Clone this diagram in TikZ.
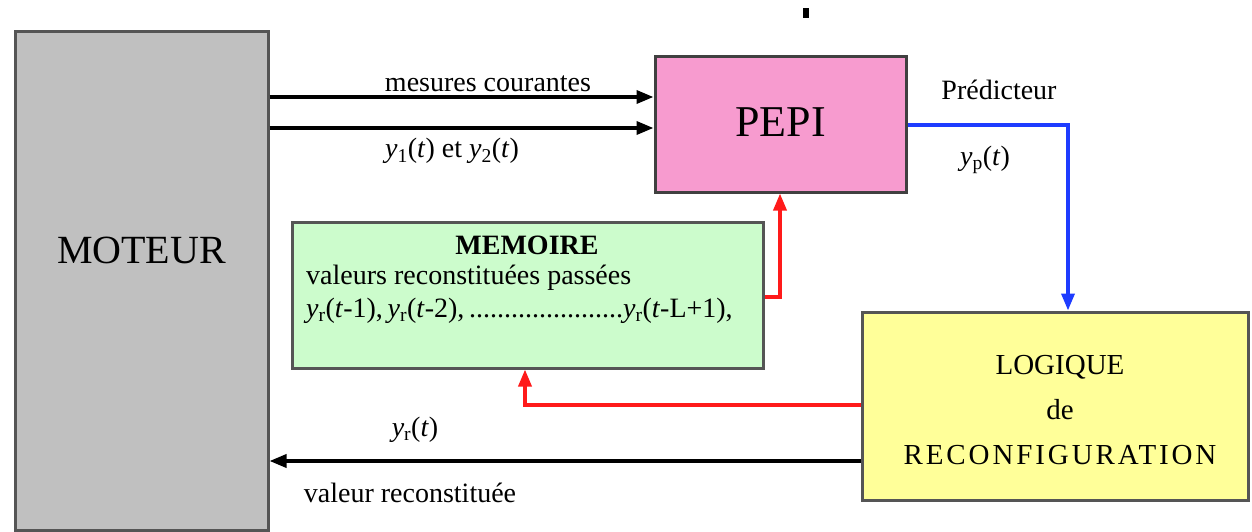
\documentclass[tikz,border=0pt]{standalone}
\usepackage{fontspec}
\setmainfont{Liberation Serif}
\usetikzlibrary{arrows.meta}
\definecolor{boxgray}{HTML}{C0C0C0}
\definecolor{boxpink}{HTML}{F79BCF}
\definecolor{boxgreen}{HTML}{CCFCCC}
\definecolor{boxyellow}{HTML}{FFFF99}
\definecolor{edgegray}{HTML}{555555}
\definecolor{linkblue}{HTML}{1E3CFF}
\definecolor{linkred}{HTML}{FF1A1A}
\newcommand{\yv}[1]{{\itshape y}\textsubscript{#1}}
\begin{document}
\begin{tikzpicture}[x=1pt,y=-1pt,
  blockbox/.style={draw=edgegray,line width=3pt,rectangle,inner sep=0pt},
  biglbl/.style={font=\fontsize{40}{44}\selectfont},
  midlbl/.style={font=\fontsize{29}{45}\selectfont,align=center},
  smalllbl/.style={font=\fontsize{28}{32}\selectfont,inner sep=0pt},
  tip/.style={-{Triangle[length=17pt,width=13pt]}},
  blk/.style={tip,line width=3.5pt,draw=black},
  bluelink/.style={tip,line width=3.5pt,draw=linkblue},
  redlink/.style={tip,line width=3.5pt,draw=linkred}]
\useasboundingbox (0,0) rectangle (1252,532);
% boxes
\node[blockbox,fill=boxgray,minimum width=253pt,minimum height=498pt] (moteur) at (141.5,281) {};
\node[biglbl] (moteurtxt) at (141.5,250) {MOTEUR};
\node[blockbox,draw=black!75,fill=boxpink,minimum width=251pt,minimum height=135pt] (pepi) at (780.5,124.5) {};
\node[biglbl,font=\fontsize{44}{48}\selectfont] (pepitxt) at (780.5,122) {PEPI};
\node[blockbox,fill=boxgreen,minimum width=471pt,minimum height=146pt] (memoire) at (527.5,295) {};
\node[smalllbl,font=\fontsize{28}{32}\selectfont\bfseries] (memtitle) at (527,245) {MEMOIRE};
\node[smalllbl,anchor=west] (memline1) at (306,278) {valeurs reconstituées passées};
\node[smalllbl,anchor=west] (memline2) at (306,311) {\yv{r}(\textit{t}-1),\,\yv{r}(\textit{t}-2),\,......................\yv{r}(\textit{t}-L+1),};
\node[blockbox,fill=boxyellow,minimum width=386pt,minimum height=188pt] (logique) at (1055,406) {};
\node[midlbl] (logtxt) at (1060,410) {LOGIQUE\\de\\\addfontfeature{LetterSpace=10}RECONFIGURATION};
% connectors
\draw[blk] (moteur.east |- 0,97) -- (pepi.west |- 0,97);
\draw[blk] (moteur.east |- 0,128) -- (pepi.west |- 0,128);
\draw[bluelink] (pepi.east |- 0,125) -| (logique.north -| 1068,0);
\draw[redlink] (memoire.east |- 0,297) -| (pepi.south -| 780,0);
\draw[redlink] (logique.west |- 0,405) -| (memoire.south -| 525,0);
\draw[blk] (logique.west |- 0,461) -- (moteur.east |- 0,461);
% labels
\node[smalllbl] (lblmes) at (488,84) {mesures courantes};
\node[smalllbl] (lbly12) at (452,151) {\yv{1}(\textit{t}) et \yv{2}(\textit{t})};
\node[smalllbl] (lblpred) at (999,90) {Prédicteur};
\node[smalllbl] (lblyp) at (985,160) {\yv{p}(\textit{t})};
\node[smalllbl] (lblyr) at (415,430) {\yv{r}(\textit{t})};
\node[smalllbl] (lblval) at (410,493) {valeur reconstituée};
\fill (803,8) rectangle (809,18);
\end{tikzpicture}
\end{document}
